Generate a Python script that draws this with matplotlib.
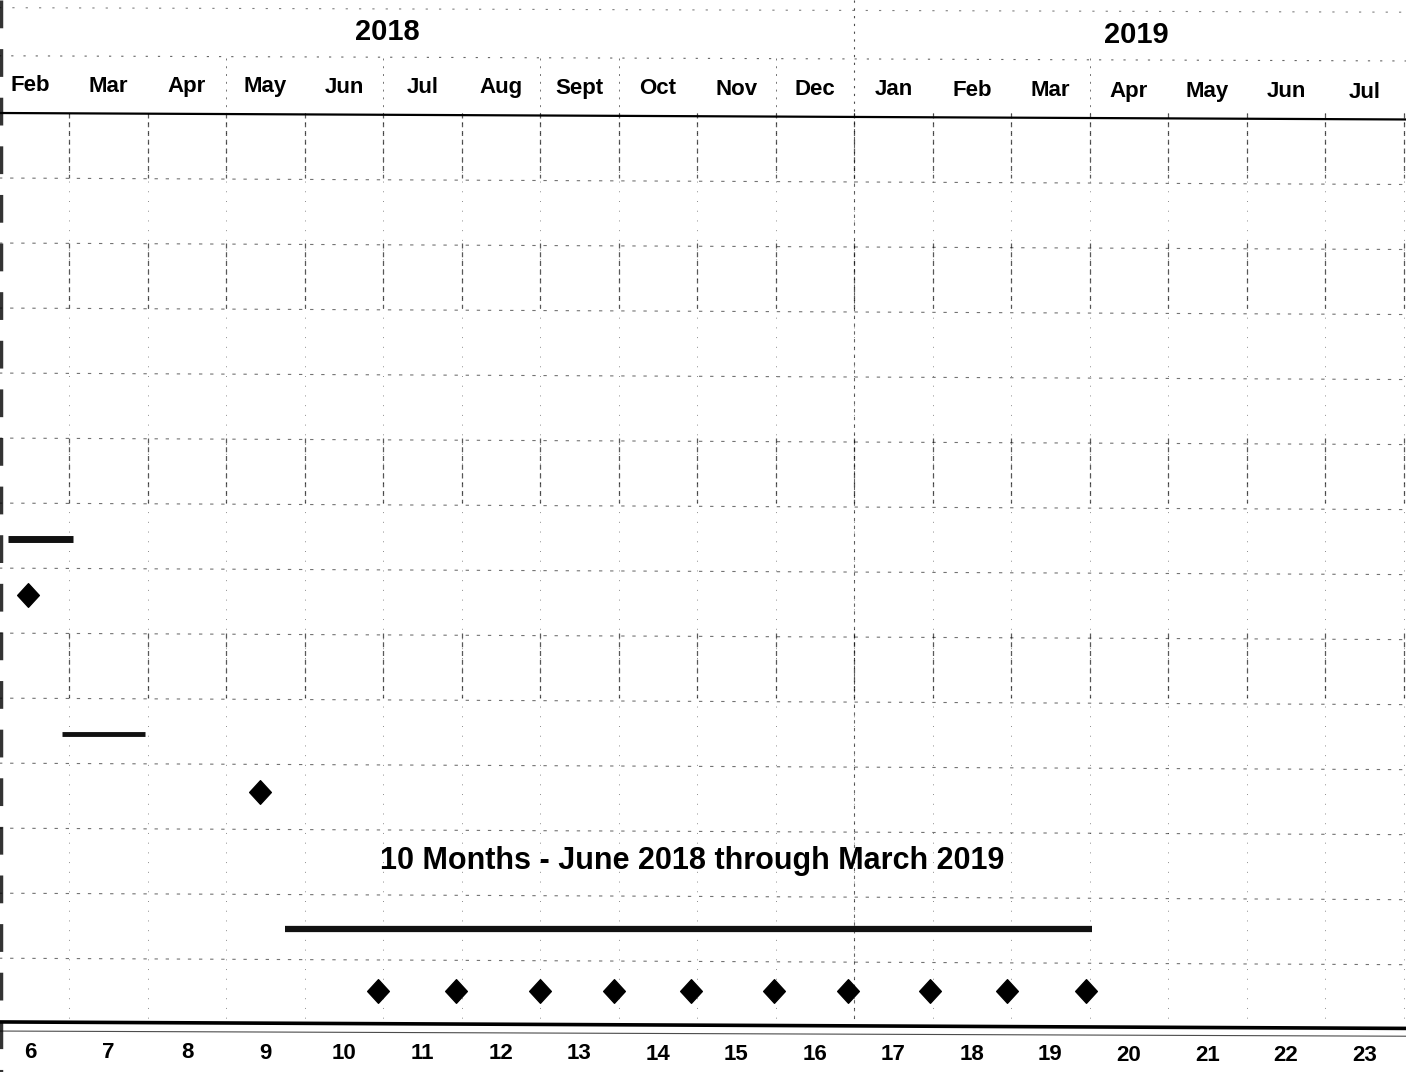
import matplotlib
matplotlib.use("Agg")
import matplotlib.pyplot as plt
from matplotlib import font_manager
from matplotlib.path import Path

# ---------------- data ----------------
months = ['Feb', 'Mar', 'Apr', 'May', 'Jun', 'Jul', 'Aug', 'Sept', 'Oct', 'Nov',
          'Dec', 'Jan', 'Feb', 'Mar', 'Apr', 'May', 'Jun', 'Jul']
years = ['2018', '2019']
year_label_x = [4.55, 14.1]
week_numbers = list(range(6, 24))

# bars: (row, start, end) in month-index units
bar_rows = [6.55, 9.55, 12.55]
bar_starts = [-0.28, 0.41, 3.25]
bar_ends = [0.55, 1.46, 13.53]
bar_widths = [5.0, 3.5, 4.5]

# single milestones
single_ms_rows = [7.42, 10.45]
single_ms_x = [-0.03, 2.93]

# monthly milestones (row 13)
monthly_ms_row = 13.5
monthly_ms_x = [4.43, 5.43, 6.5, 7.44, 8.42, 9.48, 10.42, 11.46, 12.45, 13.45]

note_text = '10 Months - June 2018 through March 2019'
note_pos = (8.43, 11.5)

n_rows = 14
boxed_rows = [0, 2, 5, 8]

# ---------------- fonts ----------------
avail = {f.name for f in font_manager.fontManager.ttflist}
fam = [f for f in ['Liberation Sans Narrow', 'Liberation Sans', 'DejaVu Sans'] if f in avail]
plt.rcParams['font.family'] = fam

# ---------------- figure ----------------
fig = plt.figure(figsize=(14.06, 10.72), dpi=100)
ax = fig.add_axes([0, 0, 1, 1])
ax.set_xlim(-0.382, 17.53)
ax.set_ylim(14.75, -1.738)
ax.axis('off')

n = len(months)
bounds = [k + 0.5 for k in range(-1, n)]
tilt = 0.1 / 17.0  # slight scan skew (rows per month column)

# header lines
ax.plot([-0.4, 17.6], [-1.62, -1.55], color='black', lw=0.8, ls=(0, (2, 10)), alpha=0.5)
ax.plot([-0.4, 17.6], [-0.88, -0.8], color='black', lw=0.8, ls=(0, (2, 9)), alpha=0.6)
ax.plot([10.5, 10.5], [-1.74, 0], color='black', lw=0.8, ls=(0, (2, 5)), alpha=0.7)
for b in [2.5, 4.5, 6.5, 7.5, 9.5, 13.5]:
    ax.plot([b, b], [-0.85, 0], color='black', lw=0.7, ls=(0, (2, 6)), alpha=0.55)

# header underline
ax.plot([-0.4, 17.6], [0, 0.1], color='black', lw=1.6)

# horizontal grid lines
for r in range(1, n_rows):
    ax.plot([-0.4, 17.6], [r, r + 0.1], color='black', lw=0.8,
            ls=(0, (3, 7)), alpha=0.55)

# vertical grid lines
for b in bounds[1:]:
    ax.plot([b, b], [0, n_rows], color='black', lw=0.7, ls=(0, (1, 9)), alpha=0.45)
    for r in boxed_rows:
        ax.plot([b, b], [r, r + 1], color='black', lw=0.9, ls=(0, (4, 3)), alpha=0.65)
ax.plot([10.5, 10.5], [0, n_rows], color='black', lw=0.8, ls=(0, (3, 4)), alpha=0.6)

# bottom lines
ax.plot([-0.4, 17.6], [13.98, 14.08], color='black', lw=2.6)
ax.plot([-0.4, 17.6], [14.12, 14.2], color='black', lw=0.8, alpha=0.7)

# left scan edge
ax.plot([-0.375, -0.375], [-1.74, 14.75], color='black', lw=2.5, ls=(0, (8, 6)), alpha=0.8)

# labels
for i, m in enumerate(months):
    ax.text(i, -0.42 + tilt * i, m, ha='center', va='center', fontsize=16, fontweight='bold')
for x, y in zip(year_label_x, years):
    ax.text(x, -1.28 + tilt * x, y, ha='center', va='center', fontsize=21, fontweight='bold')
for i, w in enumerate(week_numbers):
    ax.text(i, 14.45 + 0.5 * tilt * i, str(w), ha='center', va='center',
            fontsize=16, fontweight='bold')

# bars
for r, s, e, w in zip(bar_rows, bar_starts, bar_ends, bar_widths):
    ax.plot([s, e], [r, r], color='#111111', lw=w, solid_capstyle='butt')

# diamond marker
diamond = Path([(0, 1), (0.92, 0), (0, -1), (-0.92, 0), (0, 1)],
               [Path.MOVETO, Path.LINETO, Path.LINETO, Path.LINETO, Path.CLOSEPOLY])
ax.plot(single_ms_x, single_ms_rows, ls='none', marker=diamond, ms=17, color='black')
ax.plot(monthly_ms_x, [monthly_ms_row] * len(monthly_ms_x), ls='none', marker=diamond,
        ms=17, color='black')

ax.text(note_pos[0], note_pos[1], note_text, ha='center', va='center',
        fontsize=22, fontweight='bold')

fig.savefig('out.png', dpi=100, facecolor='white')
